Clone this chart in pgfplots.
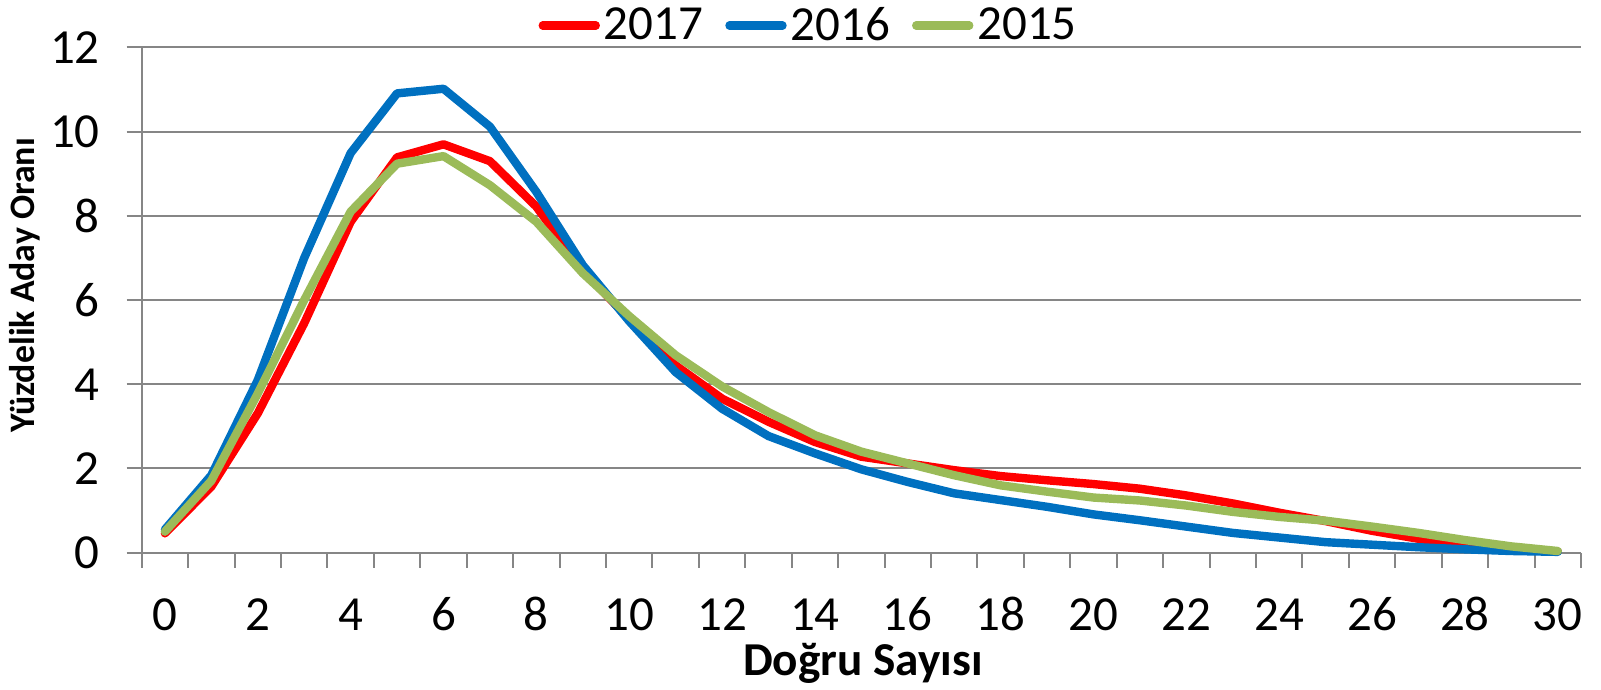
\documentclass[border=0pt]{standalone}
\usepackage{pgfplots}
\usepackage{pgfplotstable}
\pgfplotsset{compat=1.18}
\usepackage{fontspec}
\setmainfont{Carlito}
\definecolor{cR}{HTML}{FF0000}
\definecolor{cB}{HTML}{0070C0}
\definecolor{cG}{HTML}{9BBB59}
\definecolor{cGrid}{HTML}{868686}
\pgfplotstableread{
i r b g
0 0.46 0.55 0.50
1 1.57 1.84 1.71
2 3.31 4.10 3.78
3 5.45 7.00 6.00
4 7.86 9.49 8.10
5 9.39 10.91 9.24
6 9.70 11.02 9.42
7 9.30 10.12 8.73
8 8.22 8.57 7.86
9 6.71 6.83 6.64
10 5.55 5.50 5.62
11 4.45 4.29 4.69
12 3.66 3.42 3.95
13 3.11 2.77 3.34
14 2.63 2.36 2.79
15 2.28 1.98 2.40
16 2.12 1.68 2.12
17 1.96 1.41 1.84
18 1.82 1.25 1.60
19 1.72 1.09 1.45
20 1.63 0.91 1.31
21 1.52 0.77 1.24
22 1.36 0.62 1.12
23 1.17 0.47 0.97
24 0.95 0.36 0.85
25 0.75 0.25 0.76
26 0.52 0.19 0.62
27 0.33 0.13 0.47
28 0.17 0.08 0.30
29 0.08 0.04 0.15
30 0.03 0.02 0.04
}\data
\begin{document}
\begin{tikzpicture}
\useasboundingbox (-70.85pt,-68.65pt) rectangle (729.65pt,276.35pt);
\begin{axis}[
  at={(0pt,0pt)}, anchor=south west,
  scale only axis, width=719.65pt, height=252.6pt,
  xmin=-0.5, xmax=30.5, ymin=0, ymax=12,
  axis lines*=left,
  axis line style={cGrid, line width=1pt},
  clip=false,
  xtick={-0.5,0.5,...,30.5}, xticklabels={},
  extra x ticks={0,2,...,30},
  extra x tick style={major tick length=0pt, xticklabel style={anchor=base, yshift=-39pt}},
  ytick={0,2,...,12},
  ymajorgrids,
  grid style={cGrid, line width=1pt},
  tick align=outside,
  major tick length=7.5pt,
  tick style={cGrid, line width=1pt},
  /pgf/number format/assume math mode=true,
  tick label style={font=\fontsize{24.5}{29}\selectfont, inner sep=0pt},
  yticklabel style={anchor=east, xshift=-13.3pt},
  xlabel={\bfseries Doğru Sayısı},
  xlabel style={at={(axis description cs:0.5011,-0.2421)}, anchor=base, font=\fontsize{23.6}{28}\selectfont, inner sep=0pt},
  ylabel={\bfseries Yüzdelik Aday Oranı},
  ylabel style={at={(axis description cs:-0.0811,0.5291)}, anchor=center, font=\fontsize{17.9}{21}\selectfont, inner sep=0pt},
  legend columns=3,
  legend style={at={(axis description cs:0.4641,1.0435)}, anchor=center, draw=none, fill=none,
    font=\fontsize{24.5}{29}\selectfont, inner sep=0pt, nodes={inner sep=2pt},
    /tikz/every even column/.append style={column sep=9pt}},
  legend image code/.code={\draw[#1, line cap=round] (0pt,0pt) -- (26.5pt,0pt);},
]
\addplot[cR, line width=4.2pt, line join=round, line cap=round] table[x=i,y=r] {\data};
\addlegendentry{2017}
\addplot[cB, line width=4.2pt, line join=round, line cap=round] table[x=i,y=b] {\data};
\addlegendentry{2016}
\addplot[cG, line width=4.2pt, line join=round, line cap=round] table[x=i,y=g] {\data};
\addlegendentry{2015}
\end{axis}
\end{tikzpicture}
\end{document}
